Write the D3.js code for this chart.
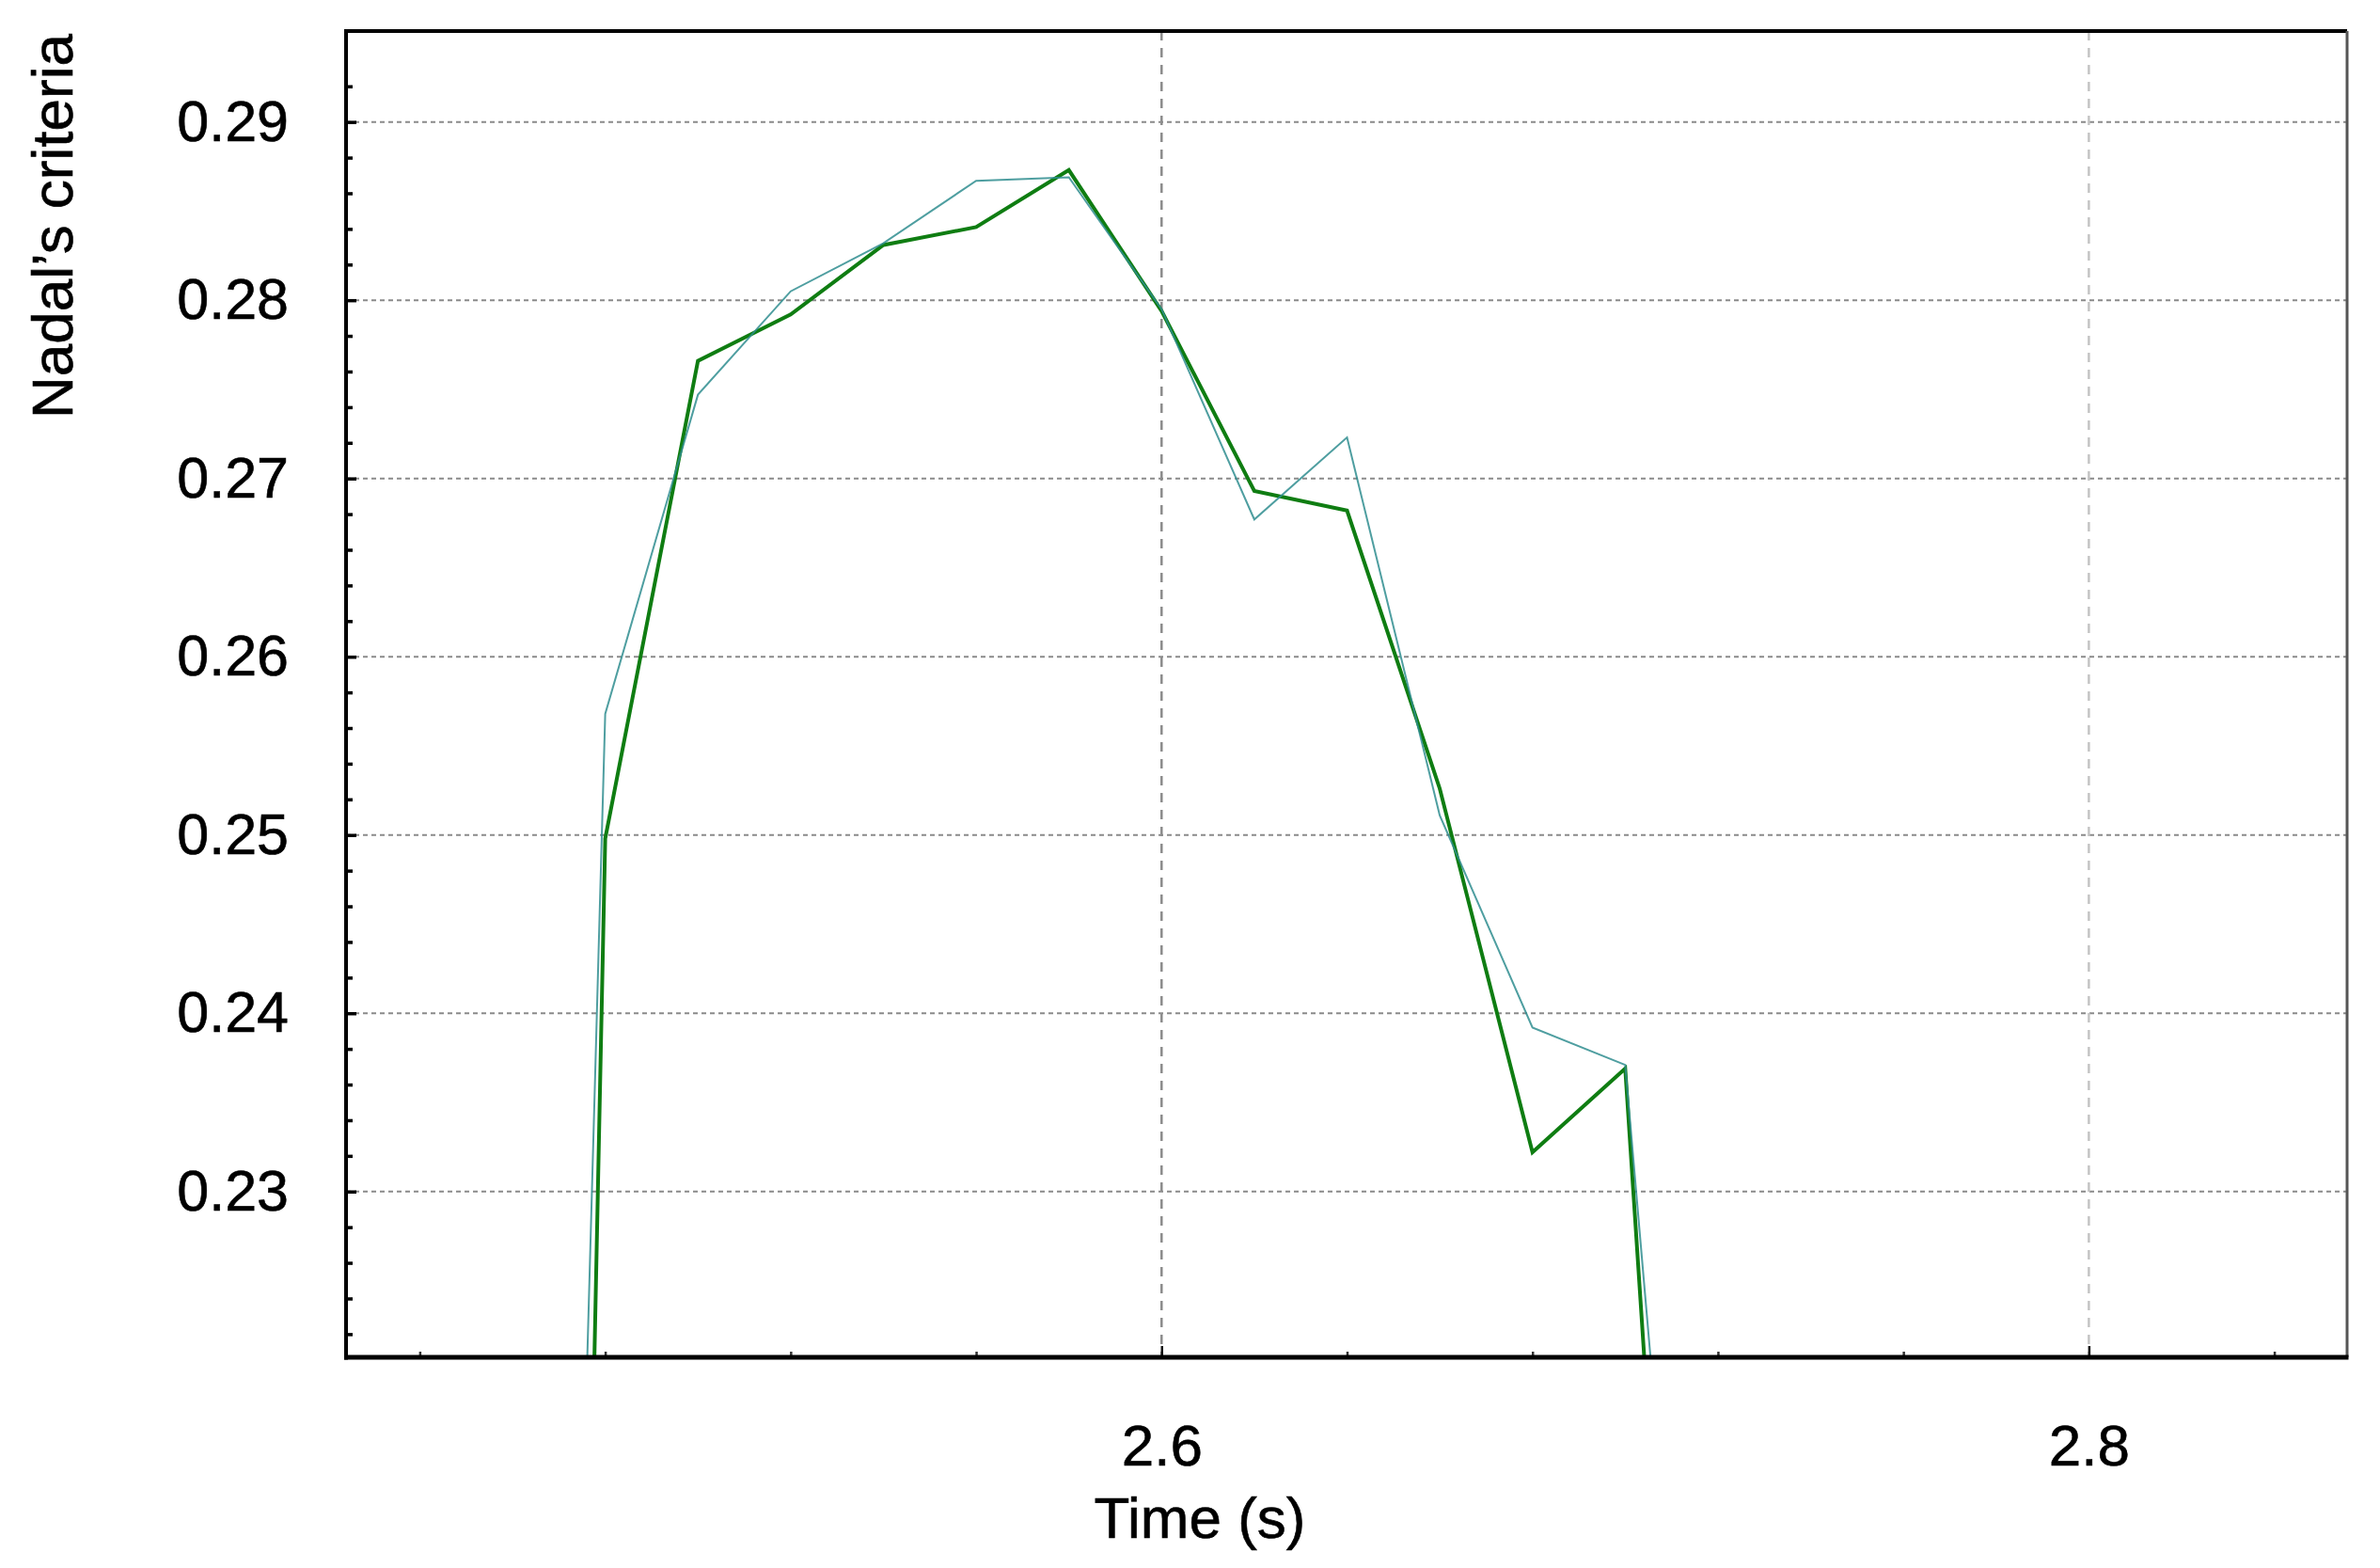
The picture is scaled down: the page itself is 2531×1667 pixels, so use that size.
<!DOCTYPE html>
<html>
<head>
<meta charset="utf-8">
<script src="https://cdn.jsdelivr.net/npm/d3@7"></script>
<style>
  html, body { margin: 0; padding: 0; background: #fff; }
  svg { display: block; font-family: "Liberation Sans", Arial, Helvetica, sans-serif; }
</style>
</head>
<body>
<svg id="chart" width="2531" height="1667"></svg>
<script>
// ---- data ----
const times = [2.46, 2.48, 2.50, 2.52, 2.54, 2.56, 2.58, 2.60, 2.62, 2.64, 2.66, 2.68, 2.70, 2.72];
const seriesGreen = [0, 0.2498, 0.2766, 0.2792, 0.2831, 0.2841, 0.2873, 0.2794, 0.2693, 0.2682, 0.2526, 0.2322, 0.2369, 0.158];
const seriesTeal  = [0.07, 0.2568, 0.2747, 0.2805, 0.2832, 0.2867, 0.2869, 0.2795, 0.2677, 0.2723, 0.2511, 0.2392, 0.2371, 0.177];
const xMajorTicks = [2.6, 2.8];
const xMinorTicks = [2.44, 2.48, 2.52, 2.56, 2.64, 2.68, 2.72, 2.76, 2.84];
const yMajorTicks = [0.23, 0.24, 0.25, 0.26, 0.27, 0.28, 0.29];
const yMinorTicks = d3.range(111, 147).map(i => i * 0.002).filter(v => Math.round(v * 1000) % 10 !== 0);
const xDomain = [2.4241, 2.8557];
const yDomain = [0.2207, 0.2951];
const xTitle = "Time (s)";
const yTitle = "Nadal\u2019s criteria";

// ---- layout ----
const L = 368, R = 2496, T = 33, B = 1443;
const svg = d3.select("#chart");
const x = d3.scaleLinear().domain(xDomain).range([L, R]);
const y = d3.scaleLinear().domain(yDomain).range([B, T]);

// grid
const grid = svg.append("g");
grid.selectAll("line.hg").data(yMajorTicks).join("line")
  .attr("x1", L).attr("x2", R)
  .attr("y1", d => y(d)).attr("y2", d => y(d))
  .attr("stroke", "#8a8a8a").attr("stroke-width", 2)
  .attr("stroke-dasharray", "5,4");
grid.selectAll("line.vg").data(xMajorTicks).join("line")
  .attr("y1", T).attr("y2", B)
  .attr("x1", d => x(d)).attr("x2", d => x(d))
  .attr("stroke", (d, i) => i === 0 ? "#8c8c8c" : "#c4c4c4").attr("stroke-width", 2.5)
  .attr("stroke-dasharray", "10,8");

// clip
svg.append("clipPath").attr("id", "plotclip")
  .append("rect").attr("x", L).attr("y", T).attr("width", R - L).attr("height", B - T);

const line = d3.line().x((d, i) => x(times[i])).y(d => y(d));
const lines = svg.append("g").attr("clip-path", "url(#plotclip)");
lines.append("path").datum(seriesGreen)
  .attr("d", line).attr("fill", "none")
  .attr("stroke", "#0f7d12").attr("stroke-width", 4).attr("stroke-linejoin", "miter");
lines.append("path").datum(seriesTeal)
  .attr("d", line).attr("fill", "none")
  .attr("stroke", "#2f8d8f").attr("stroke-width", 2).attr("stroke-opacity", 0.85);

// y axis ticks (inward)
const yAxisMajor = d3.axisLeft(y).tickValues(yMajorTicks).tickSize(-11).tickPadding(61)
  .tickFormat(d3.format(".2f"));
const gy = svg.append("g").attr("transform", `translate(${L},0)`).call(yAxisMajor);
gy.select(".domain").remove();
gy.selectAll(".tick line").attr("stroke", "#000").attr("stroke-width", 3.5);
gy.selectAll(".tick text").attr("font-size", 61).attr("fill", "#000")
  .attr("stroke", "#000").attr("stroke-width", 0.6)
  .attr("font-family", "Liberation Sans, Arial, sans-serif");
const yAxisMinor = d3.axisLeft(y).tickValues(yMinorTicks).tickSize(-7).tickFormat("");
const gym = svg.append("g").attr("transform", `translate(${L},0)`).call(yAxisMinor);
gym.select(".domain").remove();
gym.selectAll(".tick line").attr("stroke", "#000").attr("stroke-width", 3.5);

// x axis ticks (inward)
const xAxisMajor = d3.axisBottom(x).tickValues(xMajorTicks).tickSize(-12).tickPadding(71)
  .tickFormat(d3.format(".1f"));
const gx = svg.append("g").attr("transform", `translate(0,${B})`).call(xAxisMajor);
gx.select(".domain").remove();
gx.selectAll(".tick line").attr("stroke", "#111").attr("stroke-width", 2.5);
gx.selectAll(".tick text").attr("font-size", 62).attr("fill", "#000")
  .attr("stroke", "#000").attr("stroke-width", 0.6)
  .attr("font-family", "Liberation Sans, Arial, sans-serif");
const xAxisMinor = d3.axisBottom(x).tickValues(xMinorTicks).tickSize(-6).tickFormat("");
const gxm = svg.append("g").attr("transform", `translate(0,${B})`).call(xAxisMinor);
gxm.select(".domain").remove();
gxm.selectAll(".tick line").attr("stroke", "#333").attr("stroke-width", 2.5);

// frame
svg.append("line").attr("x1", L - 2).attr("x2", R).attr("y1", T).attr("y2", T)
  .attr("stroke", "#000").attr("stroke-width", 4);
svg.append("line").attr("x1", R).attr("x2", R).attr("y1", T).attr("y2", B)
  .attr("stroke", "#555").attr("stroke-width", 3);
svg.append("line").attr("x1", L - 2).attr("x2", R + 1.5).attr("y1", B).attr("y2", B)
  .attr("stroke", "#000").attr("stroke-width", 5);
svg.append("line").attr("x1", L).attr("x2", L).attr("y1", T - 2).attr("y2", B + 2.5)
  .attr("stroke", "#000").attr("stroke-width", 4);

// titles
svg.append("text").attr("x", 1276).attr("y", 1635)
  .attr("text-anchor", "middle").attr("font-size", 62).attr("fill", "#000")
  .attr("stroke", "#000").attr("stroke-width", 0.6)
  .text(xTitle);
svg.append("text").attr("transform", "translate(77,445) rotate(-90)")
  .attr("text-anchor", "start").attr("font-size", 62).attr("fill", "#000")
  .attr("stroke", "#000").attr("stroke-width", 0.6)
  .text(yTitle);
</script>
</body>
</html>
